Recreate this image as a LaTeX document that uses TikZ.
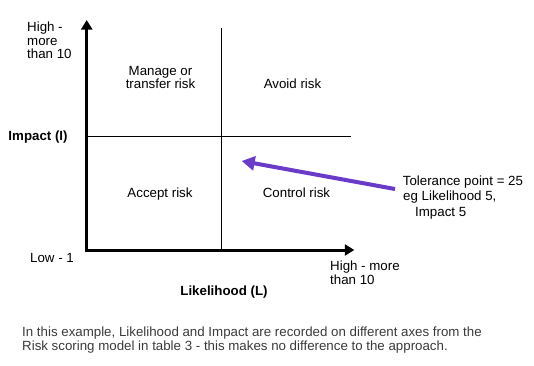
\documentclass[tikz,border=0pt]{standalone}
\usepackage{fontspec}
\setmainfont{Liberation Sans}
\usetikzlibrary{arrows.meta}
\definecolor{tolpurple}{HTML}{6A3AC8}
\definecolor{notegray}{HTML}{3A3A3A}
\begin{document}
\begin{tikzpicture}[x=1bp,y=-1bp,
  lbl/.style={inner sep=0pt,font=\fontsize{13.3bp}{13.6bp}\selectfont,text=black},
  bold/.style={lbl,font=\fontsize{13.3bp}{13.6bp}\selectfont\bfseries},
  axis/.style={line width=3bp,line join=miter,
    {Triangle[length=9.5bp,width=11bp]}-{Triangle[length=9.5bp,width=11bp]}},
  divider/.style={line width=1bp}]
\useasboundingbox (0,0) rectangle (534,365);
\coordinate (O) at (86.7,250);
\coordinate (Ytop) at (86.7,20);
\coordinate (Xend) at (354.3,250);
\coordinate (Vtop) at (221.7,28.3);
\coordinate (Vbot) at (221.7,250);
\coordinate (Hl) at (86.7,136.5);
\coordinate (Hr) at (350.7,136.5);
\draw[divider] (Vtop) -- (Vbot);
\draw[divider] (Hl) -- (Hr);
\draw[axis] (Ytop) -- (O) -- (Xend);
\node[lbl,anchor=north west,align=left] (yhigh) at (27,21.7) {High -\\more\\than 10};
\node[bold,anchor=base west] (impact) at (8.3,140.7) {Impact (I)};
\node[lbl,anchor=base west] (low) at (30,262) {Low - 1};
\node[lbl,anchor=north west,align=left,font=\fontsize{13.3bp}{14bp}\selectfont] (xhigh) at (330,261) {High - more\\than 10};
\node[bold,anchor=north] (likelihood) at (224,286) {Likelihood (L)};
\node[lbl,align=center,anchor=north] (manage) at (160.5,66) {Manage or\\transfer risk};
\node[lbl,anchor=base] (avoid) at (292.5,88.3) {Avoid risk};
\node[lbl,anchor=base] (accept) at (160,197) {Accept risk};
\node[lbl,anchor=base] (control) at (296.5,197) {Control risk};
\node[lbl,anchor=base west] (tol1) at (402.7,185) {Tolerance point = 25};
\node[lbl,anchor=base west] (tol2) at (403,200) {eg Likelihood 5,};
\node[lbl,anchor=base west] (tol3) at (415,216) {Impact 5};
\coordinate (tail) at (395,189);
\coordinate (tip) at (241.7,161);
\draw[tolpurple,line width=4bp,-{Triangle[length=13bp,width=14bp]}] (tail) -- (tip);
\node[lbl,text=notegray,anchor=north west,align=left,font=\fontsize{13.3bp}{14.3bp}\selectfont] (note) at (22,326.5) {In this example, Likelihood and Impact are recorded on different axes from the\\Risk scoring model in table 3 - this makes no difference to the approach.};
\end{tikzpicture}
\end{document}
